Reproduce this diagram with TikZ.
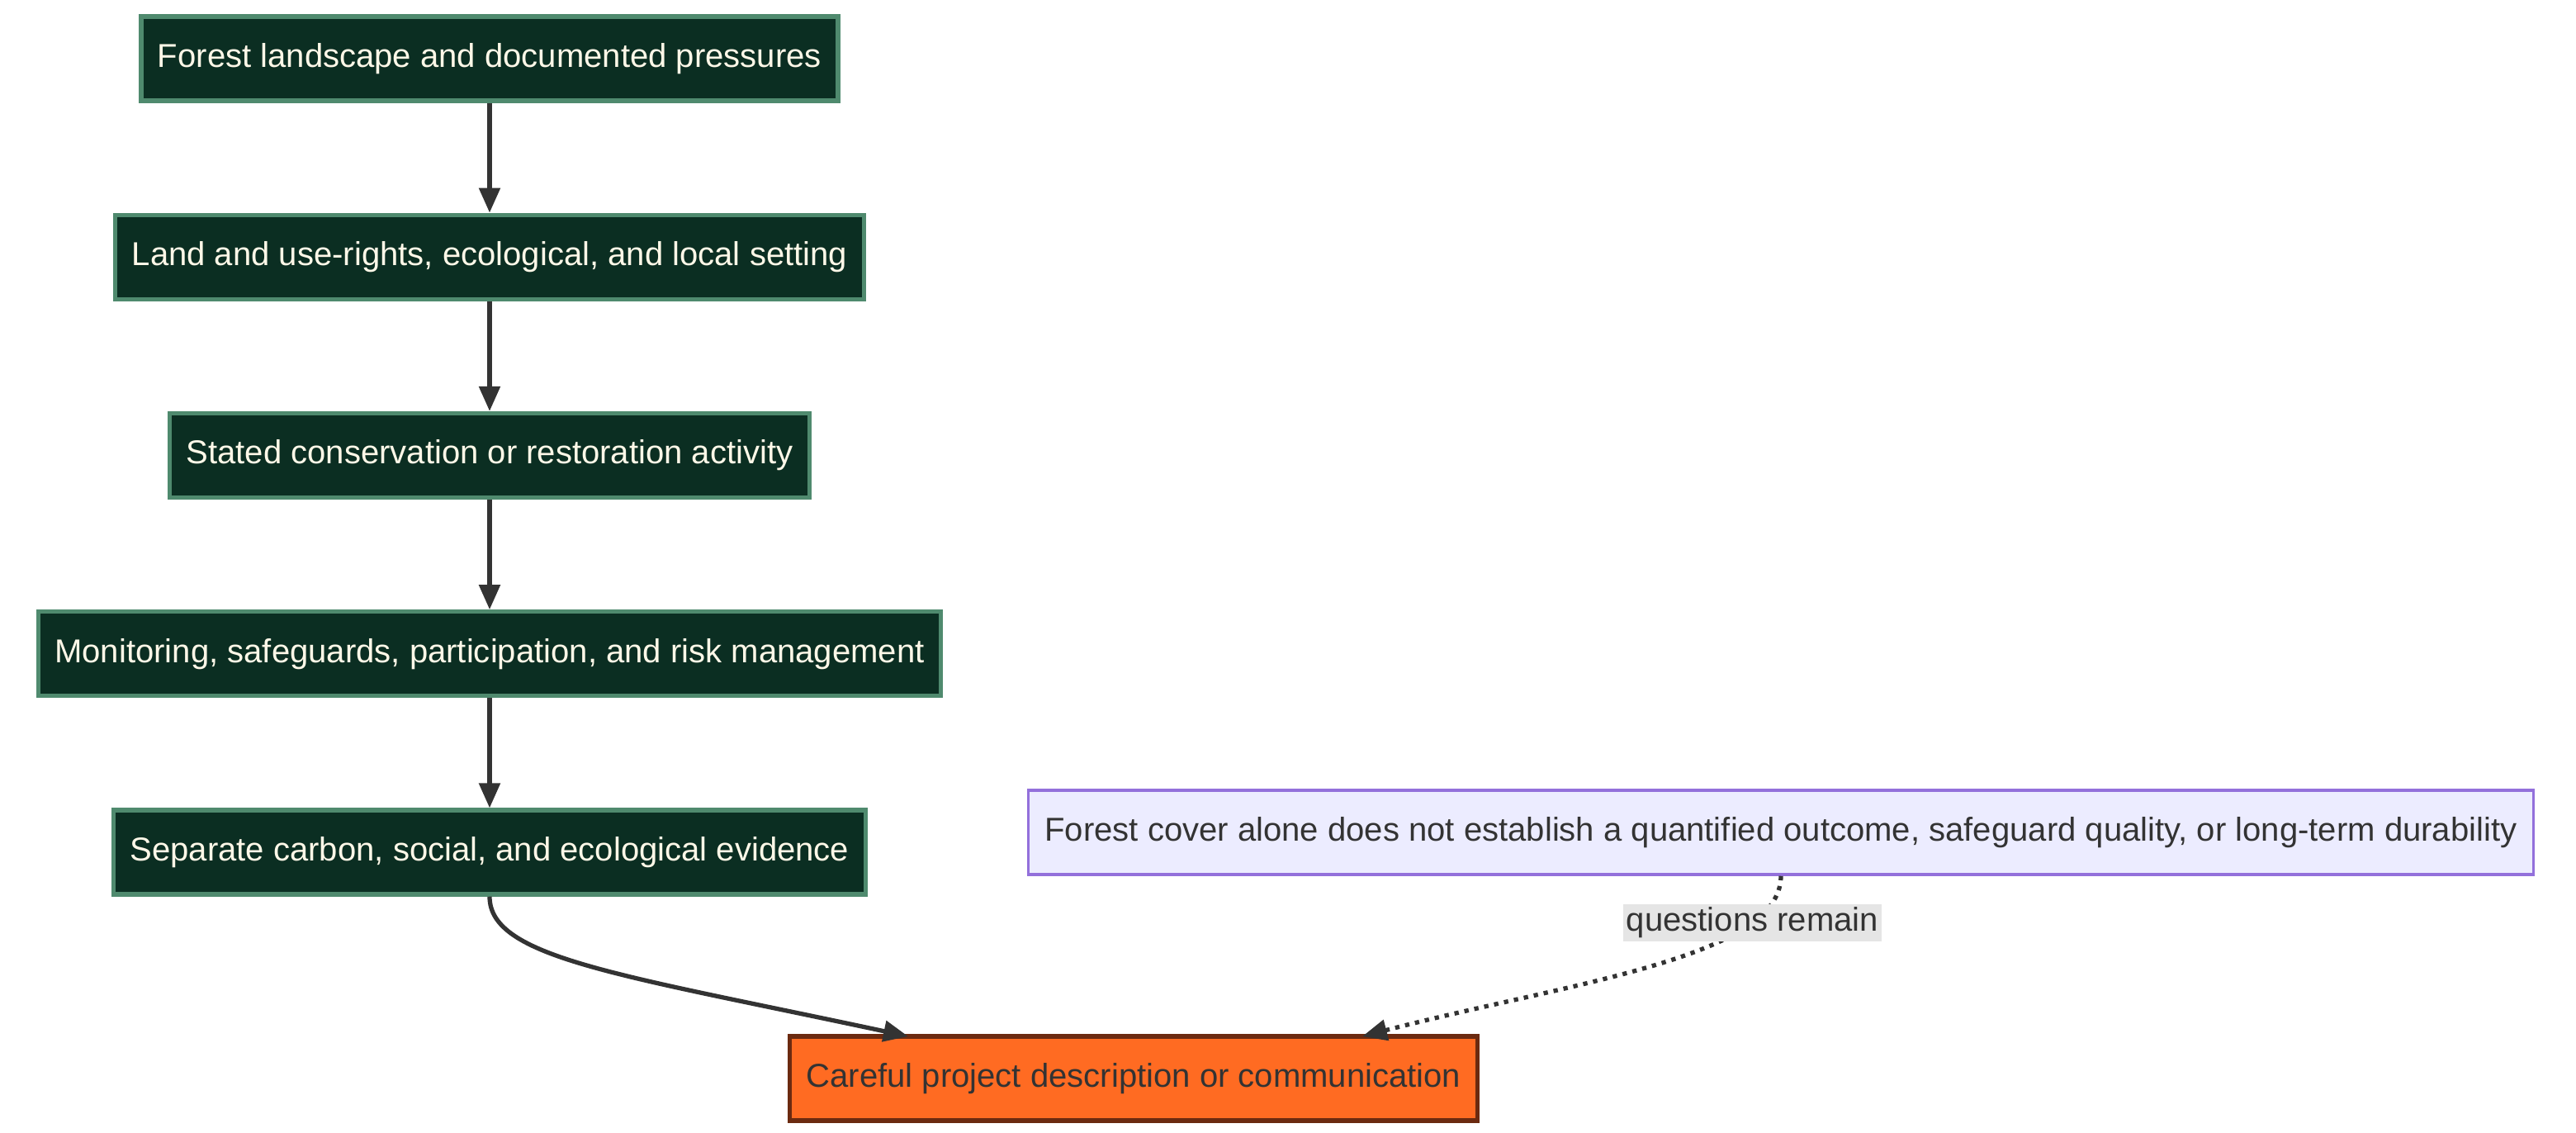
\documentclass[tikz,border=0pt]{standalone}
\usepackage{fontspec}
\setmainfont{Liberation Sans}
\usetikzlibrary{positioning,arrows.meta}
\definecolor{stepfill}{HTML}{0B2E22}
\definecolor{stepline}{HTML}{4F8A6E}
\definecolor{steptext}{HTML}{FFF8E8}
\definecolor{notefill}{HTML}{ECECFF}
\definecolor{noteline}{HTML}{9370DB}
\definecolor{endfill}{HTML}{FF6B22}
\definecolor{endline}{HTML}{6B2A10}
\definecolor{linkcol}{HTML}{333333}

\begin{document}
\begin{tikzpicture}[
	x=1cm, y=1cm, font=\fontsize{11.4}{13}\selectfont,
	node distance=1.33cm,
	stage/.style={draw=stepline, line width=1.5pt, fill=stepfill, text=steptext, minimum height=1.02cm, inner xsep=0.2cm},
	note/.style={draw=noteline, line width=1pt, fill=notefill, text=linkcol, minimum height=1.02cm, inner xsep=0.2cm},
	goal/.style={draw=endline, line width=1.5pt, fill=endfill, text=linkcol, minimum height=1.02cm, inner xsep=0.2cm},
	link/.style={draw=linkcol, line width=1.5pt, -{Triangle[length=0.3cm,width=0.25cm]}}
]
	\useasboundingbox (0,0) rectangle (31.2,-13.72);
	
	\node[stage] (landscape) at (5.93,-0.71) {Forest landscape and documented pressures};
	\node[stage, below=of landscape] (setting) {Land and use-rights, ecological, and local setting};
	\node[stage, below=of setting] (activity) {Stated conservation or restoration activity};
	\node[stage, below=of activity] (monitor) {Monitoring, safeguards, participation, and risk management};
	\node[stage, below=of monitor] (evidence) {Separate carbon, social, and ecological evidence};
	
	\node[note] (cover) at (21.57,-10.08) {Forest cover alone does not establish a quantified outcome, safeguard quality, or long-term durability};
	\node[goal] (careful) at (13.73,-13.06) {Careful project description or communication};
	\coordinate (leftin) at (11.0,-12.55);
	\coordinate (rightin) at (16.5,-12.55);
	
	\draw[link] (landscape) -- (setting);
	\draw[link] (setting) -- (activity);
	\draw[link] (activity) -- (monitor);
	\draw[link] (monitor) -- (evidence);
	\draw[link] (evidence.south) .. controls (5.93,-11.6) and (7.5,-11.8) .. (leftin);
	\draw[link, dotted] (cover.south) .. controls (21.57,-11.6) and (19,-11.9) .. (rightin)
		node[pos=0.22, fill=black!10, text=linkcol, inner sep=1pt] (remain) {questions remain};
\end{tikzpicture}
\end{document}
